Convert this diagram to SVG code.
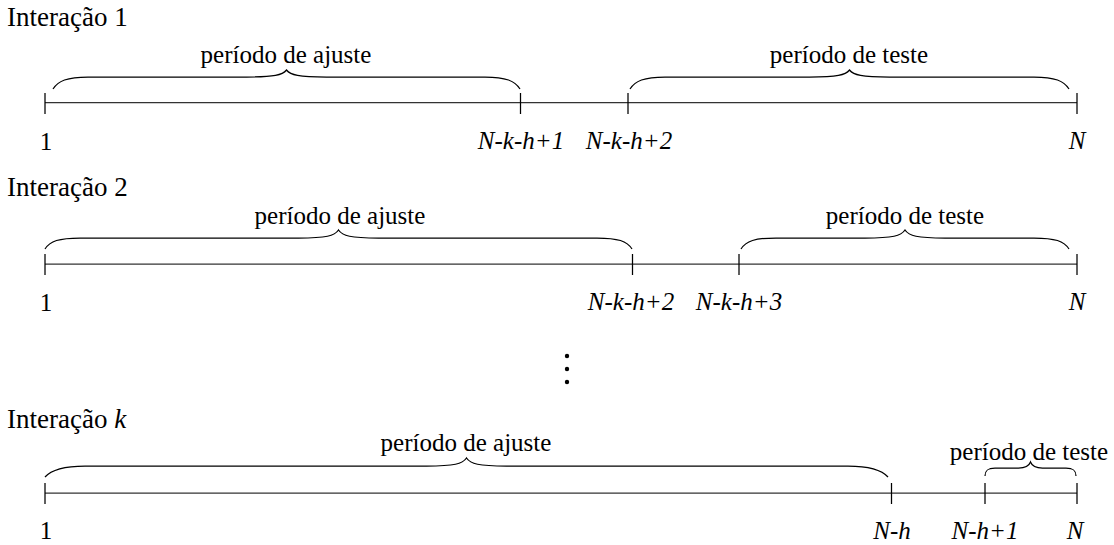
<svg xmlns="http://www.w3.org/2000/svg" width="1114" height="545" viewBox="0 0 1114 545" font-family="Liberation Serif, Times New Roman, serif">
<rect width="1114" height="545" fill="#fff"/>
<g id="row1">
<text x="7" y="26" font-size="27" font-family="Times New Roman">Interação 1</text>
<text x="286" y="63" font-size="25" text-anchor="middle" font-family="Times New Roman">período de ajuste</text>
<text x="849" y="63" font-size="25" text-anchor="middle" font-family="Times New Roman">período de teste</text>
<text x="46" y="150" font-size="25" text-anchor="middle" font-family="Times New Roman">1</text>
<text x="521" y="149" font-size="25" text-anchor="middle" font-style="italic" font-family="Times New Roman">N-k-h+1</text>
<text x="629" y="149" font-size="25" text-anchor="middle" font-style="italic" font-family="Times New Roman">N-k-h+2</text>
<text x="1077" y="149" font-size="25" text-anchor="middle" font-style="italic" font-family="Times New Roman">N</text>
</g>
<g id="row2">
<text x="7" y="196" font-size="27" font-family="Times New Roman">Interação 2</text>
<text x="340" y="224" font-size="25" text-anchor="middle" font-family="Times New Roman">período de ajuste</text>
<text x="905" y="224" font-size="25" text-anchor="middle" font-family="Times New Roman">período de teste</text>
<text x="46" y="311" font-size="25" text-anchor="middle" font-family="Times New Roman">1</text>
<text x="631" y="310" font-size="25" text-anchor="middle" font-style="italic" font-family="Times New Roman">N-k-h+2</text>
<text x="739" y="310" font-size="25" text-anchor="middle" font-style="italic" font-family="Times New Roman">N-k-h+3</text>
<text x="1077" y="310" font-size="25" text-anchor="middle" font-style="italic" font-family="Times New Roman">N</text>
</g>
<g id="ellipsis" fill="#000">
<circle cx="567" cy="356" r="2.2"/>
<circle cx="567" cy="369" r="2.2"/>
<circle cx="567" cy="382" r="2.2"/>
</g>
<g id="row3">
<text x="7" y="428" font-size="27" font-family="Times New Roman">Interação <tspan font-style="italic">k</tspan></text>
<text x="466" y="451" font-size="25" text-anchor="middle" font-family="Times New Roman">período de ajuste</text>
<text x="1029" y="460" font-size="25" text-anchor="middle" font-family="Times New Roman">período de teste</text>
<text x="46" y="539" font-size="25" text-anchor="middle" font-family="Times New Roman">1</text>
<text x="892" y="539" font-size="25" text-anchor="middle" font-style="italic" font-family="Times New Roman">N-h</text>
<text x="985" y="539" font-size="25" text-anchor="middle" font-style="italic" font-family="Times New Roman">N-h+1</text>
<text x="1075" y="539" font-size="25" text-anchor="middle" font-style="italic" font-family="Times New Roman">N</text>
</g>
<g id="connectors" fill="none" stroke="#000" stroke-width="1.25">
<g stroke="#333">
<line x1="45" y1="102.5" x2="1077" y2="102.5"/>
<line x1="45" y1="264" x2="1077" y2="264"/>
<line x1="45" y1="493" x2="1077" y2="493"/>
</g>
<path d="M45,93V114M520.5,93V114M628,93V114M1077,93V114"/>
<path d="M45,254V275M632.5,254V275M739,254V275M1077,254V275"/>
<path d="M45,483V504M891.5,483V504M985,483V504M1077,483V504"/>
<path d="M53,89 C58,81 67,77 88,77 L246.5,77 C274.5,77 282.5,75 286.5,70 C290.5,75 298.5,77 326.5,77 L485,77 C506,77 515,81 520,89"/>
<path d="M630,89 C635,81 644,77 665,77 L809.5,77 C837.5,77 845.5,75 849.5,70 C853.5,75 861.5,77 889.5,77 L1034,77 C1055,77 1064,81 1069,89"/>
<path d="M45,249 C50,241 59,238 80,238 L298.5,238 C326.5,238 334.5,236 338.5,230 C342.5,236 350.5,238 378.5,238 L597,238 C618,238 627,241 632,249"/>
<path d="M741,249 C746,241 755,238 776,238 L865,238 C893,238 901,236 905,230 C909,236 917,238 945,238 L1034,238 C1055,238 1064,241 1069,249"/>
<path d="M45,477 C51,470 62,466 85,466 L426.5,466 C454.5,466 462.5,464 466.5,458 C470.5,464 478.5,466 506.5,466 L848,466 C871,466 882,470 888,477"/>
<path d="M985,476 C985,471 987,468 995,468 L1018.5,468 C1026,468 1029,466 1030.5,462 C1032,466 1035,468 1042.5,468 L1066,468 C1074,468 1076,471 1076,476"/>
</g>
</svg>
